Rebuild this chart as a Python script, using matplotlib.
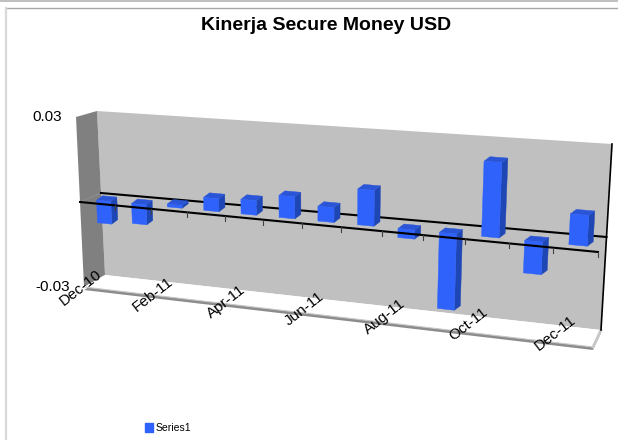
#!/usr/bin/env python3
"""Kinerja Secure Money USD - Excel style 3D column chart."""

import matplotlib
matplotlib.use("Agg")
import matplotlib.pyplot as plt
from matplotlib.patches import Patch, Polygon
import numpy as np

MONTHS = ["Dec-10", "Jan-11", "Feb-11", "Mar-11", "Apr-11", "May-11", "Jun-11",
          "Jul-11", "Aug-11", "Sep-11", "Oct-11", "Nov-11", "Dec-11"]
VALUES = [-0.008, -0.007, 0.001, 0.0045, 0.005, 0.0075, 0.005,
          0.012, -0.003, -0.025, 0.0245, -0.0105, 0.0098]
TICK_LABELS = ["Dec-10", "Feb-11", "Apr-11", "Jun-11", "Aug-11", "Oct-11", "Dec-11"]
Y_LIMITS = [-0.03, 0.03]
Y_LABELS = ["-0.03", "0.03"]

# pixel corners of the 3D box: (left/right, bottom/top)
FRONT = {"lb": (84, 287), "lt": (76, 117), "rb": (593, 347), "rt": (603, 157)}
BACK = {"lb": (105, 275), "lt": (97, 111), "rb": (601, 330), "rt": (612, 144)}
PERSPECTIVE = 1.146  # months get wider to the right

BLUE_FRONT = "#2e62fb"
BLUE_SIDE = "#1e46b4"
BLUE_TOP = "#2a55d6"

plt.rcParams["font.family"] = ["Liberation Sans", "DejaVu Sans"]


def project(month, value, depth):
    """Map (month position, value, depth 0=front 1=back) to pixel coordinates."""
    t = month / len(MONTHS)
    s = t / (t + PERSPECTIVE * (1 - t))
    v = (value - Y_LIMITS[0]) / (Y_LIMITS[1] - Y_LIMITS[0])
    pts = []
    for box in (FRONT, BACK):
        bottom = (1 - s) * np.array(box["lb"]) + s * np.array(box["rb"])
        top = (1 - s) * np.array(box["lt"]) + s * np.array(box["rt"])
        pts.append((1 - v) * bottom + v * top)
    return (1 - depth) * pts[0] + depth * pts[1]


def add_face(ax, points, color, zorder, edge="none", lw=0):
    ax.add_patch(Polygon(points, closed=True, facecolor=color, edgecolor=edge,
                         linewidth=lw, zorder=zorder))


def draw_bar(ax, i, value):
    x0, x1 = i + 0.295, i + 0.705
    d0 = 0.3
    back = np.array((6, -4.5))  # depth of a column looks constant on screen
    low, high = min(value, 0), max(value, 0)
    a, b = project(x0, low, d0), project(x1, low, d0)
    c, d = project(x1, high, d0), project(x0, high, d0)
    add_face(ax, [b, b + back, c + back, c], BLUE_SIDE, 5, BLUE_SIDE, 0.3)
    add_face(ax, [d, c, c + back, d + back], BLUE_TOP, 5, BLUE_TOP, 0.3)
    add_face(ax, [a, b, c, d], BLUE_FRONT, 6, BLUE_FRONT, 0.3)


fig = plt.figure(figsize=(6.18, 4.40), dpi=100)
ax = fig.add_axes([0, 0, 1, 1])
ax.set_xlim(0, 618)
ax.set_ylim(440, 0)
ax.axis("off")

n = len(MONTHS)
lo, hi = Y_LIMITS

# chart area border, only the top and left show
ax.fill_between([0, 618], 0, 2.5, color="#c0c0c0", lw=0, zorder=1)
ax.plot([6, 618], [8.5, 8.5], color="#a8a8a8", lw=1, zorder=1)
ax.plot([6, 6], [8, 440], color="#d8d8d8", lw=1.6, zorder=1)

# walls and floor
add_face(ax, [project(0, lo, 1), project(n, lo, 1), project(n, hi, 1), project(0, hi, 1)], "#c0c0c0", 2)
add_face(ax, [project(0, lo, 0), project(0, lo, 1), project(0, hi, 1), project(0, hi, 0)], "#808080", 2)
ax.plot(*np.array([project(0, 0, 0), project(0, 0, 1)]).T, color="#8e8e8e", lw=0.8, zorder=2)
slab = [project(0, lo, 0), project(n, lo, 0), project(n, lo, 1), project(0, lo, 1)]
add_face(ax, [p + (0, 3) for p in slab], "#8c8c8c", 2)
add_face(ax, slab, "#ffffff", 3)
ax.plot(*np.array([project(0, lo, 0), project(n, lo, 0)]).T, color="#c8c8c8", lw=0.8, zorder=3)
ax.plot(*np.array([project(n, lo, 0), project(n, lo, 1)]).T, color="#c8c8c8", lw=2, zorder=3)

# right edge of the back wall
ax.plot(*np.array([project(n, hi, 1), project(n, lo, 1)]).T, color="black", lw=1.2, zorder=3)

# zero plane edges, the front one carries the ticks
months = np.arange(n + 1)
back_line = np.array([project(m, 0, 1) for m in months])
front_line = np.array([project(m, 0, 0) for m in months])
ax.plot(back_line[:, 0], back_line[:, 1], color="black", lw=1.5, zorder=4)
ax.plot(front_line[:, 0], front_line[:, 1], color="black", lw=1.5, zorder=7)
for p in front_line[1:]:
    ax.plot([p[0], p[0]], [p[1], p[1] + 5], color="#404040", lw=0.8, zorder=7)

for i, value in enumerate(VALUES):
    draw_bar(ax, i, value)

# text
ax.text(326, 25, "Kinerja Secure Money USD", fontsize=14, fontweight="bold",
        ha="center", va="center", zorder=8)
for label, value in zip(Y_LABELS, Y_LIMITS):
    x, y = project(0, value, 0)
    ax.text(x - 14, y, label, fontsize=11, ha="right", va="center", zorder=8)
for label in TICK_LABELS:
    m = MONTHS.index(label)
    x, y = project(m, lo, 0)
    ax.text(x - 3 + 10 * m / (n - 1), y + 1 - 10 * m / (n - 1), label, fontsize=11, rotation=38,
            rotation_mode="anchor", ha="center", va="center", zorder=8)

fig.legend(handles=[Patch(color=BLUE_FRONT, label="Series1")], loc="lower left",
           bbox_to_anchor=(0.22, -0.005), frameon=False, fontsize=7.5, handlelength=0.7,
           handleheight=0.9, handletextpad=0.25)

fig.savefig("out.png", dpi=100)
plt.close(fig)
